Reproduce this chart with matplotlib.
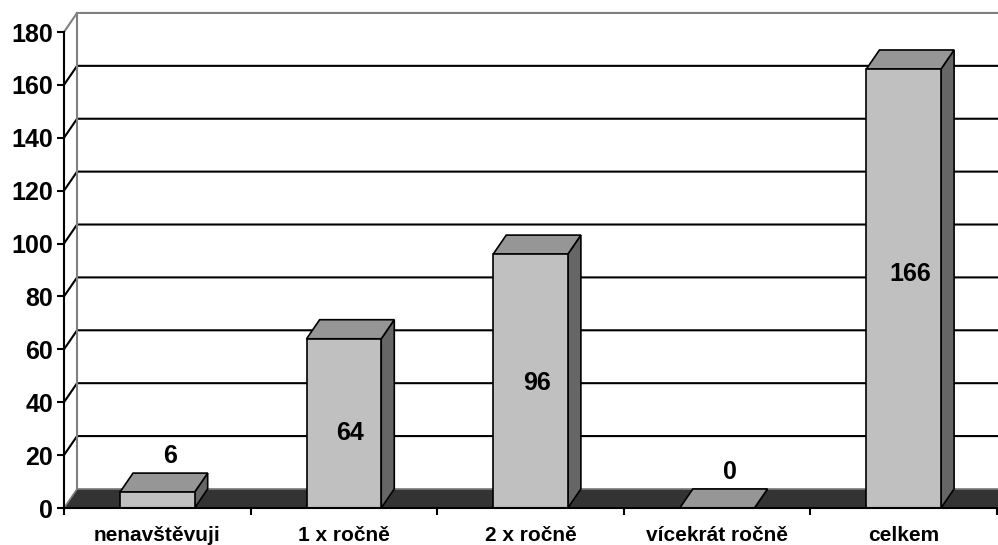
import matplotlib.pyplot as plt
from matplotlib.patches import Polygon

plt.rcParams['font.family'] = ['Liberation Sans', 'DejaVu Sans']
plt.rcParams['font.weight'] = 'bold'

kategorie = ['nenavštěvuji', '1 x ročně', '2 x ročně', 'vícekrát ročně', 'celkem']
hodnoty = [6, 64, 96, 0, 166]
y_ticks = list(range(0, 181, 20))

# hloubka 3D efektu (v jednotkach kategorie / hodnoty)
DX = 0.07
DY = 7.2
SIRKA = 0.4

fig = plt.figure(figsize=(9.98, 5.45), dpi=100)
ax = fig.add_axes([64 / 998, 37 / 545, 933 / 998, 476 / 545])
ax.set_xlim(0, len(kategorie))
ax.set_ylim(0, 180)
ax.set_facecolor('none')
n = len(kategorie)

# bocni stena vlevo a zadni stena
ax.add_patch(Polygon([(0, 0), (DX, DY), (DX, 180 + DY), (0, 180)], closed=True,
                     facecolor='white', edgecolor='none', clip_on=False, zorder=0))
ax.add_patch(Polygon([(DX, DY), (n + DX, DY), (n + DX, 180 + DY), (DX, 180 + DY)], closed=True,
                     facecolor='white', edgecolor='none', clip_on=False, zorder=0))

# mrizka
for v in y_ticks[1:-1]:
    ax.plot([0, DX, n + DX], [v, v + DY, v + DY], color='black', lw=1.5, clip_on=False, zorder=1)
ax.plot([0, DX, n + DX], [180, 180 + DY, 180 + DY], color='#808080', lw=1.5, clip_on=False, zorder=1)
ax.plot([DX, DX], [DY, 180 + DY], color='#808080', lw=1.5, clip_on=False, zorder=1)

# podlaha
ax.add_patch(Polygon([(0, 0), (n, 0), (n + DX, DY), (DX, DY)], closed=True,
                     facecolor='#333333', edgecolor='none', clip_on=False, zorder=2))
ax.plot([0, DX, n + DX], [0, DY, DY], color='#808080', lw=1.2, clip_on=False, zorder=2)

# sloupce
for i, v in enumerate(hodnoty):
    x0 = i + 0.5 - SIRKA / 2
    x1 = x0 + SIRKA
    ax.add_patch(Polygon([(x1, 0), (x1 + DX, DY), (x1 + DX, v + DY), (x1, v)], closed=True,
                         facecolor='#666666', edgecolor='black', lw=1.2, zorder=3))
    ax.add_patch(Polygon([(x0, v), (x1, v), (x1 + DX, v + DY), (x0 + DX, v + DY)], closed=True,
                         facecolor='#969696', edgecolor='black', lw=1.2, zorder=3))
    if v > 0:
        ax.add_patch(Polygon([(x0, 0), (x1, 0), (x1, v), (x0, v)], closed=True,
                             facecolor='#c0c0c0', edgecolor='black', lw=1.2, zorder=3))
    if v >= 20:
        ax.text(i + 0.5 + DX / 2, v * 0.59 - 9.3, str(v), ha='center', va='center',
                fontsize=18, fontweight='bold', zorder=4)
    else:
        ax.text(i + 0.5 + DX, v + DY + 6.5, str(v), ha='center', va='center',
                fontsize=18, fontweight='bold', zorder=4)

# osy
for s in ['top', 'right']:
    ax.spines[s].set_visible(False)
ax.spines['left'].set_linewidth(1.5)
ax.spines['bottom'].set_linewidth(1.5)
ax.spines['left'].set_zorder(5)
ax.spines['bottom'].set_zorder(5)

ax.set_yticks(y_ticks)
ax.tick_params(axis='y', length=5, width=1.5, pad=3, labelsize=18)
ax.set_xticks(range(n + 1))
ax.set_xticklabels([])
ax.tick_params(axis='x', which='major', length=5, width=1.5)
ax.set_xticks([i + 0.5 for i in range(n)], minor=True)
ax.set_xticklabels(kategorie, minor=True, fontsize=15, fontweight='bold')
ax.tick_params(axis='x', which='minor', length=0, pad=13)

plt.savefig('out.png', dpi=100)
